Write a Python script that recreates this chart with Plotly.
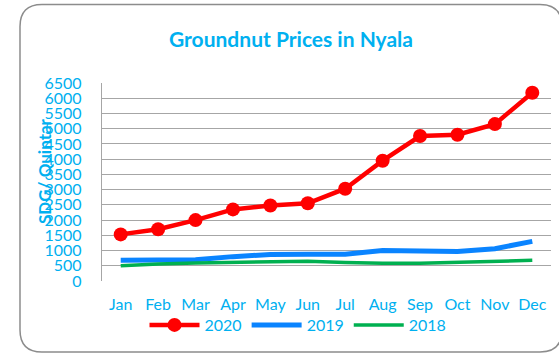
import plotly.graph_objects as go

months = ["Jan", "Feb", "Mar", "Apr", "May", "Jun", "Jul", "Aug", "Sep", "Oct", "Nov", "Dec"]
prices_2020 = [1530, 1700, 2000, 2350, 2480, 2550, 3030, 3950, 4760, 4800, 5150, 6180]
prices_2019 = [680, 670, 700, 800, 870, 880, 880, 1000, 1000, 970, 1060, 1300]
prices_2018 = [500, 560, 590, 610, 650, 650, 610, 580, 580, 610, 650, 680]
y_ticks = list(range(0, 6501, 500))

W, H = 559, 354
L, R, T, B = 102, 8, 83, 73
PW, PH = W - L - R, H - T - B

TEXT = "#00B0F0"
FONT = "Lato, Carlito, Calibri, sans-serif"


def px_to_paper(x, y):
    return (x - L) / PW, (H - B - y) / PH


fig = go.Figure()
fig.add_trace(go.Scatter(
    x=months, y=prices_2020, name="2020", mode="lines+markers",
    line=dict(color="#FF0000", width=4.5), marker=dict(color="#FF0000", size=14),
))
fig.add_trace(go.Scatter(
    x=months, y=prices_2019, name="2019", mode="lines",
    line=dict(color="#0A84FF", width=5),
))
fig.add_trace(go.Scatter(
    x=months, y=prices_2018, name="2018", mode="lines",
    line=dict(color="#00B050", width=3.5),
))

# rounded chart frame
x0, y0, x1, y1, r = 20, 4.5, 562, 352, 22
pts = {
    "a": px_to_paper(x0 + r, y0), "b": px_to_paper(x1 - r, y0),
    "c": px_to_paper(x1, y0), "d": px_to_paper(x1, y0 + r),
    "e": px_to_paper(x1, y1 - r), "f": px_to_paper(x1, y1),
    "g": px_to_paper(x1 - r, y1), "h": px_to_paper(x0 + r, y1),
    "i": px_to_paper(x0, y1), "j": px_to_paper(x0, y1 - r),
    "k": px_to_paper(x0, y0 + r), "l": px_to_paper(x0, y0),
}
p = lambda k: f"{pts[k][0]:.5f},{pts[k][1]:.5f}"
path = (f"M {p('a')} L {p('b')} Q {p('c')} {p('d')} L {p('e')} Q {p('f')} {p('g')} "
        f"L {p('h')} Q {p('i')} {p('j')} L {p('k')} Q {p('l')} {p('a')} Z")
fig.add_shape(type="path", path=path, xref="paper", yref="paper",
              line=dict(color="#8C8C8C", width=1.5), layer="above")

ax, ay = px_to_paper(44, 171)
fig.add_annotation(text="<b>SDG/ Quintar</b>", textangle=-90, x=ax, y=ay,
                   xref="paper", yref="paper", xanchor="center", yanchor="middle",
                   showarrow=False,
                   font=dict(family=FONT, size=17, color=TEXT))

lx, ly = px_to_paper(298, 325)
fig.update_layout(
    width=W, height=H,
    margin=dict(l=L, r=R, t=T, b=B),
    paper_bgcolor="white", plot_bgcolor="white",
    title=dict(text="<b>Groundnut Prices in Nyala</b>", x=291 / W, xanchor="center",
               y=1 - 40 / H, yanchor="middle", yref="container",
               font=dict(family=FONT, size=21, color=TEXT)),
    font=dict(family=FONT, size=16, color=TEXT),
    showlegend=True,
    legend=dict(orientation="h", x=lx, xanchor="center", y=ly, yanchor="middle",
                font=dict(family=FONT, size=16, color=TEXT), itemwidth=50,
                bgcolor="rgba(0,0,0,0)"),
    xaxis=dict(type="category", range=[-0.5, 11.5], showgrid=False, showline=False,
               zeroline=False, ticks="", ticklabelstandoff=12,
               tickfont=dict(family=FONT, size=16, color=TEXT)),
    yaxis=dict(range=[0, 6500], tickvals=y_ticks, showgrid=True,
               gridcolor="#A6A6A6", gridwidth=1.3, showline=True, linecolor="#A6A6A6",
               linewidth=1.3, zeroline=False, ticks="", ticklabelstandoff=16,
               tickfont=dict(family=FONT, size=16, color=TEXT)),
)

fig.write_html("out.html")
